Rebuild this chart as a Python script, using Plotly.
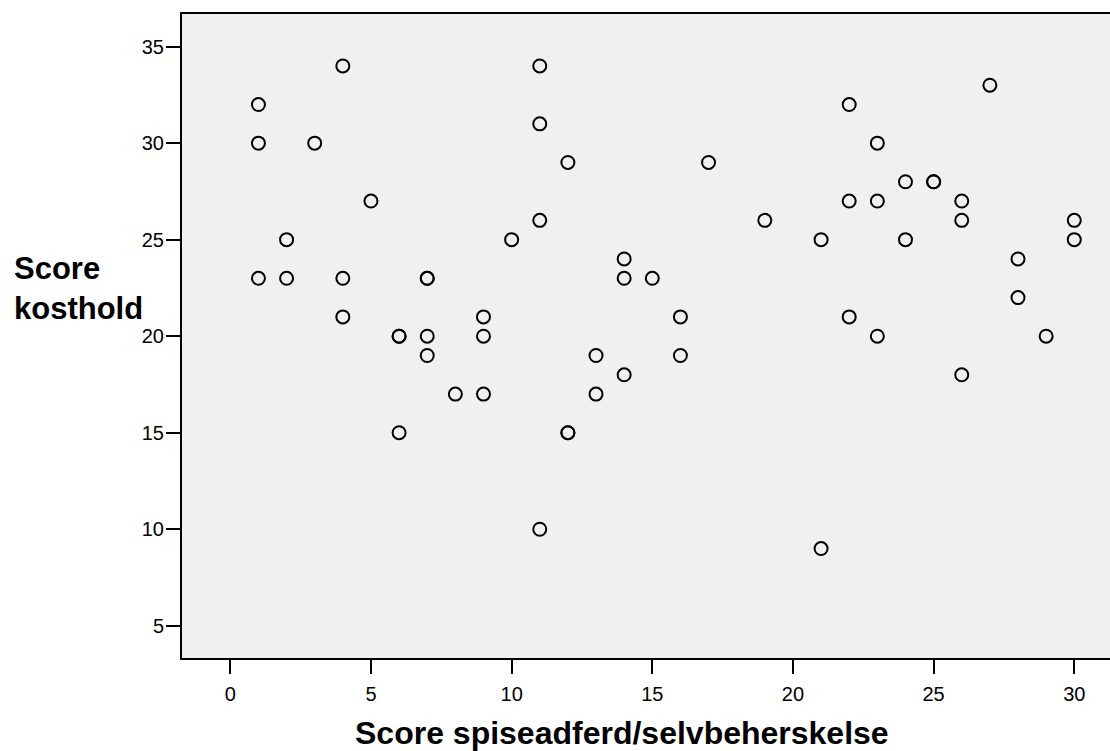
import plotly.graph_objects as go

# Score spiseadferd/selvbeherskelse (x) and Score kosthold (y)
spiseadferd = [1, 1, 1, 2, 2, 3, 4, 4, 4, 5,
               6, 6, 6, 7, 7, 7, 7, 8, 9, 9, 9,
               10, 11, 11, 11, 11, 12, 12, 12, 13, 13,
               14, 14, 14, 15, 16, 16, 17, 19, 21, 21,
               22, 22, 22, 23, 23, 23, 24, 24, 25, 25,
               26, 26, 26, 27, 28, 28, 29, 30, 30]
kosthold = [32, 30, 23, 25, 23, 30, 34, 23, 21, 27,
            20, 20, 15, 23, 23, 20, 19, 17, 21, 20, 17,
            25, 34, 31, 26, 10, 29, 15, 15, 19, 17,
            24, 23, 18, 23, 21, 19, 29, 26, 25, 9,
            32, 27, 21, 30, 27, 20, 28, 25, 28, 28,
            27, 26, 18, 33, 24, 22, 20, 26, 25]

x_ticks = [0, 5, 10, 15, 20, 25, 30]
y_ticks = [5, 10, 15, 20, 25, 30, 35]

FONT = "Liberation Sans, Arial, sans-serif"

fig = go.Figure()
fig.add_trace(go.Scatter(
    x=spiseadferd, y=kosthold, mode="markers",
    marker=dict(symbol="circle-open", size=13, color="black",
                line=dict(width=2, color="black")),
    showlegend=False, hoverinfo="x+y",
))

fig.update_layout(
    width=1110, height=751,
    margin=dict(l=182, r=0, t=14, b=93),
    paper_bgcolor="white",
    plot_bgcolor="#F0F0F0",
    font=dict(family=FONT, color="black", size=20),
    xaxis=dict(
        range=[-1.717, 31.27], tickvals=x_ticks, ticktext=[str(v) for v in x_ticks],
        showgrid=False, zeroline=False,
        showline=True, linecolor="black", linewidth=2, mirror=True,
        ticks="outside", ticklen=14, tickwidth=2, tickcolor="black",
        tickfont=dict(family=FONT, size=20, color="black"),
        ticklabelstandoff=3,
    ),
    yaxis=dict(
        range=[3.33, 36.69], tickvals=y_ticks, ticktext=[str(v) for v in y_ticks],
        showgrid=False, zeroline=False,
        showline=True, linecolor="black", linewidth=2,
        ticks="outside", ticklen=14, tickwidth=2, tickcolor="black",
        tickfont=dict(family=FONT, size=20, color="black"),
        ticklabelstandoff=-2,
    ),
    annotations=[
        dict(text="<b>Score spiseadferd/selvbeherskelse</b>",
             xref="paper", yref="paper", x=0.474, y=-0.116,
             xanchor="center", yanchor="middle", showarrow=False,
             font=dict(family=FONT, size=32, color="black")),
        dict(text="<b>Score<br>kosthold</b>",
             xref="paper", yref="paper", x=-182/928 + 12/928, y=(658-289)/644,
             xanchor="left", yanchor="middle", align="left", showarrow=False,
             font=dict(family=FONT, size=31, color="black")),
    ],
)

fig.write_html(
    "out.html",
    config={"displayModeBar": False},
    post_script="document.body.style.margin='0';document.body.style.overflow='hidden';",
)
